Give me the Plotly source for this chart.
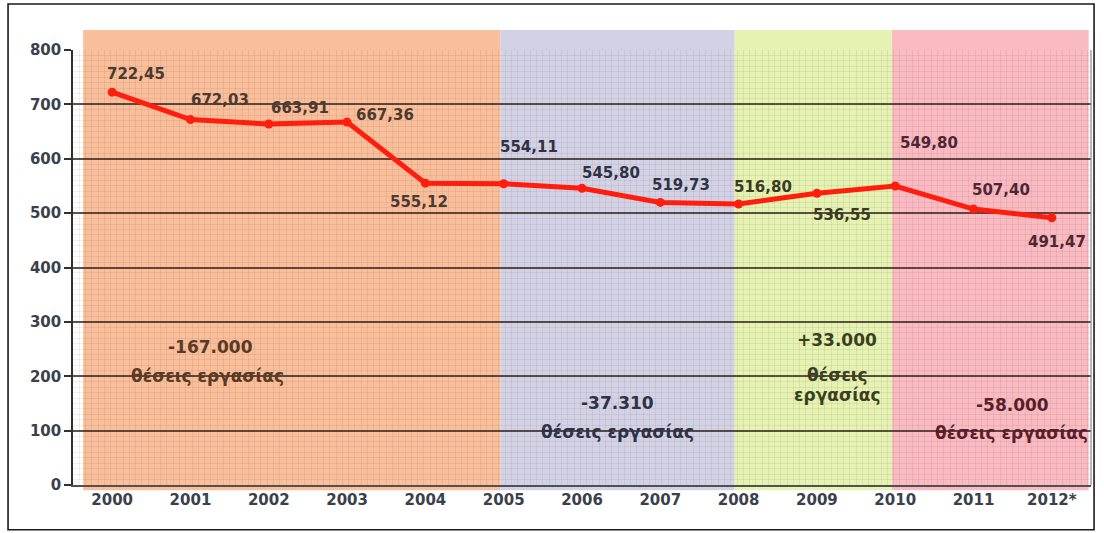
import plotly.graph_objects as go

# ---------------- data ----------------
years = ["2000", "2001", "2002", "2003", "2004", "2005", "2006",
         "2007", "2008", "2009", "2010", "2011", "2012*"]
values = [722.45, 672.03, 663.91, 667.36, 555.12, 554.11, 545.80,
          519.73, 516.80, 536.55, 549.80, 507.40, 491.47]

# periods (index of first / last year of each period)
period_start = [0, 5, 8, 10]
period_end = [5, 8, 10, 12]
period_change = ["-167.000", "-37.310", "+33.000", "-58.000"]
period_caption = "θέσεις εργασίας"

y_ticks = [0, 100, 200, 300, 400, 500, 600, 700, 800]

# ---------------- styling / layout helpers ----------------
band_colors = ["#F9BE9A", "#D2D2E6", "#E4F2B2", "#F9BAC2"]
band_text_colors = ["#5A3A24", "#2E3244", "#3C3E22", "#5A1E2A"]
# pixel offsets (dx, dy-up) of each value label from its point
label_dx = [24, 30, 31, 38, -6, 25, 29, 21, 24, 25, 34, 27, 5]
label_dy = [18, 20, 16, 7, -19, 37, 15, 17, 17, -22, 43, 19, -24]
label_colors = ["#4A3A30"] * 5 + ["#2E3242"] * 3 + ["#3A3A24"] * 2 + ["#4E2634"] * 3

xs = list(range(len(years)))
fmt = [f"{v:.2f}".replace(".", ",") for v in values]

FONT = "DejaVu Sans"

fig = go.Figure()

fig.add_trace(go.Scatter(
    x=xs, y=values, mode="lines+markers",
    line=dict(color="#FF1E0E", width=5),
    marker=dict(color="#FF1E0E", size=9),
    hoverinfo="skip", showlegend=False,
))

shapes = []
# colour bands (extend a little above / below the plot area)
band_left = [-0.37, 4.96, 7.95, 9.96]
band_right = [4.96, 7.95, 9.96, 12.47]
for i in range(len(period_start)):
    shapes.append(dict(type="rect", xref="x", yref="paper",
                       x0=band_left[i], x1=band_right[i], y0=-0.012, y1=1.046,
                       fillcolor=band_colors[i], line=dict(width=0), layer="below"))
# right edge of plot
shapes.append(dict(type="line", xref="paper", yref="paper", x0=1, x1=1, y0=0, y1=1,
                   line=dict(color="#8A8A8A", width=1.2), layer="above"))
# outer frame
shapes.append(dict(type="rect", xref="paper", yref="paper",
                   x0=-0.0638, x1=1.0030, y0=-0.103, y1=1.1057,
                   line=dict(color="#1A1A1A", width=1.6), fillcolor="rgba(0,0,0,0)"))

annotations = []
for k in xs:
    annotations.append(dict(x=k, y=values[k], xref="x", yref="y", text=fmt[k],
                            showarrow=False, xshift=label_dx[k], yshift=label_dy[k],
                            font=dict(family=FONT, size=15, color=label_colors[k], weight="bold")))

# period texts (position in data units, layout only)
period_text_pos = [
    [(1.26, 254, period_change[0]), (1.22, 200, period_caption)],
    [(6.45, 151, period_change[1]), (6.45, 97, period_caption)],
    [(9.26, 267, period_change[2]), (9.26, 202, "θέσεις"), (9.26, 165, "εργασίας")],
    [(11.50, 147, period_change[3]), (11.48, 96, period_caption)],
]
for i, items in enumerate(period_text_pos):
    for (px, py, t) in items:
        annotations.append(dict(x=px, y=py, xref="x", yref="y", text=t, showarrow=False,
                                font=dict(family=FONT, size=17, color=band_text_colors[i], weight="bold")))

fig.update_layout(
    width=1104, height=533,
    margin=dict(l=73, r=13, t=50, b=48),
    paper_bgcolor="white", plot_bgcolor="rgba(0,0,0,0)",
    shapes=shapes, annotations=annotations,
    xaxis=dict(range=[-0.5, 12.5], tickmode="array", tickvals=xs, ticktext=years,
               ticks="", showgrid=False, zeroline=False,
               showline=True, linecolor="#505050", linewidth=1.5,
               tickfont=dict(family=FONT, size=15, color="#3A404C", weight="bold"),
               minor=dict(dtick=0.08, tick0=-0.5, showgrid=True,
                          gridcolor="rgba(140,80,70,0.10)", gridwidth=1, ticks="")),
    xaxis2=dict(range=[-0.5, 12.5], overlaying="x", anchor="y", side="bottom",
                tickmode="array", tickvals=[k + 0.5 for k in range(-1, len(years))],
                ticks="outside", ticklen=5, tickcolor="#505050", tickwidth=1.5,
                showticklabels=False, showgrid=False, zeroline=False, showline=False),
    yaxis=dict(range=[0, 800], tickmode="array", tickvals=y_ticks,
               ticks="outside", ticklen=7, tickcolor="#303030", tickwidth=1.5,
               showline=True, linecolor="#303030", linewidth=1.5,
               showgrid=True, gridcolor="rgba(55,40,35,0.80)", gridwidth=1.5,
               zeroline=False,
               tickfont=dict(family=FONT, size=15, color="#3A404C", weight="bold"),
               minor=dict(dtick=10, showgrid=True,
                          gridcolor="rgba(140,80,70,0.10)", gridwidth=1, ticks="")),
)

fig.write_html("out.html",
               config={"displayModeBar": False},
               post_script="document.body.style.margin='0';document.body.style.overflow='hidden';")
